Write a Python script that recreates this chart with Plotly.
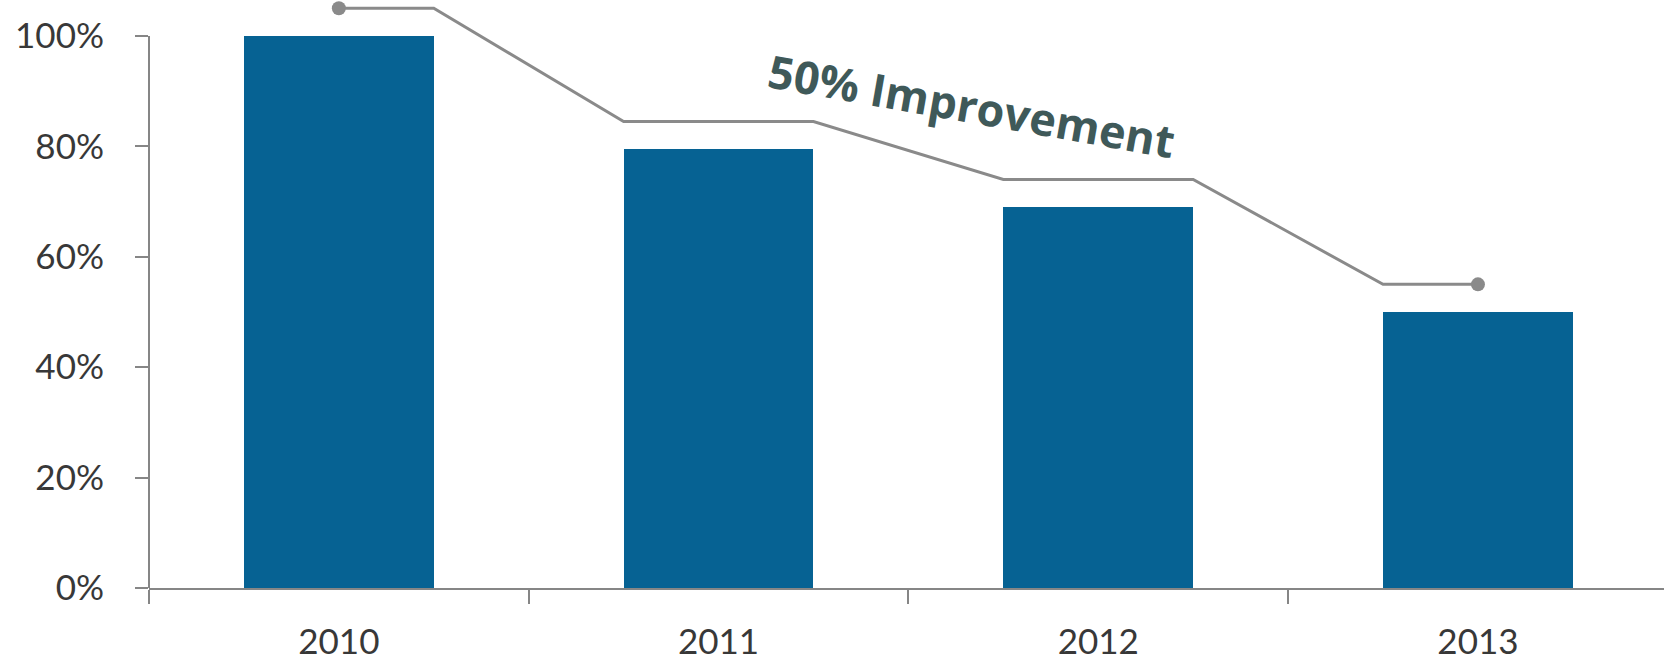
import plotly.graph_objects as go

years = ["2010", "2011", "2012", "2013"]
bar_values = [100, 79.5, 69, 50]
trend_values = [105, 84.5, 74, 55]
y_ticks = [0, 20, 40, 60, 80, 100]
y_tick_labels = ["0%", "20%", "40%", "60%", "80%", "100%"]
annotation_text = "50% Improvement"

bar_width = 0.5
xpos = list(range(len(years)))

# stepped trend line: flat across each bar, sloped between bars
lx, ly = [], []
n = len(years)
for i, t in enumerate(trend_values):
    left = i if i == 0 else i - bar_width / 2
    right = i if i == n - 1 else i + bar_width / 2
    lx += [left, right]
    ly += [t, t]

axis_grey = "#868686"

fig = go.Figure()
fig.add_trace(go.Bar(
    x=xpos, y=bar_values, width=bar_width,
    marker=dict(color="#066293", line=dict(width=0)),
    hoverinfo="skip",
))
fig.add_trace(go.Scatter(
    x=lx, y=ly, mode="lines",
    line=dict(color="#8a8a8a", width=3),
    cliponaxis=False, hoverinfo="skip",
))
fig.add_trace(go.Scatter(
    x=[xpos[0], xpos[-1]], y=[trend_values[0], trend_values[-1]], mode="markers",
    marker=dict(color="#8a8a8a", size=14),
    cliponaxis=False, hoverinfo="skip",
))

fig.add_annotation(
    x=1.668, y=87.4, xref="x", yref="y",
    text="<b>" + annotation_text + "</b>",
    showarrow=False, textangle=10,
    font=dict(family="Open Sans", size=45, color="#3f5959"),
)

# y axis line only spans the 0-100% tick range
fig.add_shape(
    type="line", xref="paper", x0=0, x1=0, yref="y", y0=y_ticks[0], y1=y_ticks[-1],
    line=dict(color=axis_grey, width=2), layer="above",
)

tick_font = dict(family="Lato", size=35, color="#383838")
fig.update_layout(
    width=1664, height=659,
    margin=dict(l=149, r=0, t=0, b=71),
    paper_bgcolor="white", plot_bgcolor="white",
    showlegend=False,
    bargap=0,
)
fig.update_xaxes(
    range=[-0.5, 3.49], automargin=False,
    tickmode="array", tickvals=xpos, ticktext=years,
    ticks="", showgrid=False, zeroline=False,
    showline=True, linecolor=axis_grey, linewidth=2,
    tickfont=tick_font, ticklabelstandoff=22,
    minor=dict(tickmode="array", tickvals=[-0.5, 0.5, 1.5, 2.5, 3.5],
               ticks="outside", ticklen=14, tickwidth=2, tickcolor=axis_grey, showgrid=False),
)
fig.update_yaxes(
    range=[0, 106.5], automargin=False,
    tickmode="array", tickvals=y_ticks, ticktext=y_tick_labels,
    ticks="outside", ticklen=13, tickwidth=2, tickcolor=axis_grey,
    showgrid=False, zeroline=False, showline=False,
    tickfont=tick_font, ticklabelstandoff=24,
)

fig.write_html(
    "out.html",
    config={"displayModeBar": False},
    post_script="document.body.style.margin='0';document.body.style.overflow='hidden';",
)
